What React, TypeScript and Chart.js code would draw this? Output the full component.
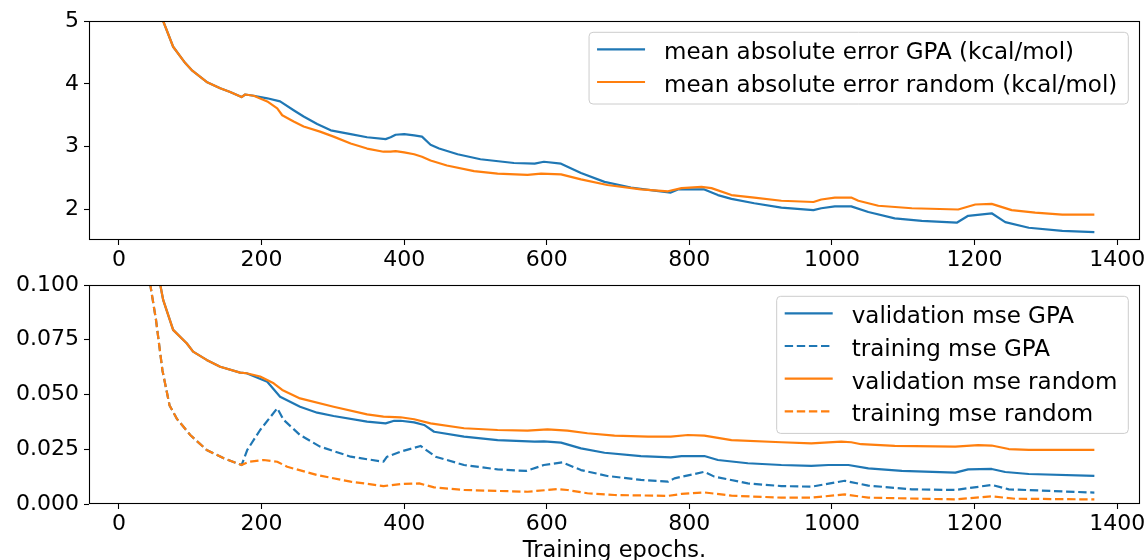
import { useEffect, useRef } from 'react';
import { Chart, registerables } from 'chart.js';

Chart.register(...registerables);

const FONT = '"DejaVu Sans", sans-serif';
const BLUE = '#1f77b4';
const ORANGE = '#ff7f0e';
const DASH = [8.4, 3.7];

// ---- axis ticks ----
const xTicks = [0, 200, 400, 600, 800, 1000, 1200, 1400];
const maeTicks = [2, 3, 4, 5];
const mseTicks = [0, 0.025, 0.05, 0.075, 0.1];

// ---- top panel: mean absolute error ----
const maeRandomEpochs = [30, 62, 76, 93, 102, 123, 142, 156, 172, 177, 189, 208, 222, 229, 245, 259, 282, 301, 325, 348, 371, 381, 388, 400, 414, 425, 437, 460, 498, 531, 573, 592, 620, 648, 685, 732, 770, 789, 817, 831, 859, 891, 929, 974, 985, 1004, 1027, 1037, 1065, 1112, 1177, 1201, 1224, 1252, 1285, 1323, 1368];
const maeRandomValues = [7.5, 5.0, 4.59, 4.33, 4.22, 4.03, 3.93, 3.87, 3.79, 3.83, 3.81, 3.72, 3.61, 3.50, 3.40, 3.32, 3.24, 3.16, 3.05, 2.97, 2.92, 2.92, 2.93, 2.91, 2.88, 2.84, 2.78, 2.70, 2.61, 2.57, 2.55, 2.57, 2.56, 2.48, 2.39, 2.32, 2.29, 2.34, 2.36, 2.34, 2.23, 2.19, 2.14, 2.12, 2.16, 2.19, 2.19, 2.14, 2.06, 2.02, 2.00, 2.08, 2.09, 1.99, 1.95, 1.92, 1.92];

const maeGpaEpochs = [30, 62, 76, 93, 102, 123, 142, 156, 172, 177, 189, 208, 226, 245, 259, 278, 297, 325, 348, 374, 381, 388, 400, 414, 425, 437, 449, 475, 507, 554, 583, 596, 620, 648, 681, 718, 751, 774, 784, 821, 840, 859, 891, 929, 974, 985, 1004, 1027, 1051, 1088, 1126, 1175, 1191, 1224, 1243, 1276, 1323, 1368];
const maeGpaValues = [7.5, 5.0, 4.59, 4.33, 4.22, 4.03, 3.93, 3.87, 3.79, 3.83, 3.81, 3.77, 3.72, 3.58, 3.48, 3.36, 3.26, 3.20, 3.15, 3.12, 3.15, 3.19, 3.20, 3.18, 3.16, 3.03, 2.97, 2.88, 2.80, 2.74, 2.73, 2.76, 2.73, 2.58, 2.44, 2.35, 2.30, 2.27, 2.32, 2.32, 2.23, 2.17, 2.10, 2.03, 1.99, 2.02, 2.05, 2.05, 1.96, 1.86, 1.82, 1.79, 1.90, 1.94, 1.80, 1.71, 1.66, 1.64];

// ---- bottom panel: mse ----
const valRandomEpochs = [30, 58, 62, 76, 95, 104, 123, 142, 170, 179, 198, 217, 229, 254, 301, 348, 371, 395, 414, 437, 484, 531, 573, 601, 629, 657, 695, 742, 774, 798, 821, 859, 929, 971, 1013, 1027, 1041, 1088, 1173, 1205, 1224, 1248, 1276, 1368];
const valRandomValues = [0.16, 0.100, 0.0932, 0.0795, 0.0734, 0.0696, 0.0658, 0.0627, 0.0600, 0.0597, 0.0582, 0.0551, 0.0521, 0.0482, 0.0444, 0.0409, 0.0399, 0.0396, 0.0387, 0.0368, 0.0346, 0.0338, 0.0335, 0.0341, 0.0335, 0.0323, 0.0312, 0.0308, 0.0308, 0.0315, 0.0312, 0.0292, 0.0282, 0.0277, 0.0285, 0.0282, 0.0273, 0.0265, 0.0262, 0.0269, 0.0267, 0.0251, 0.0247, 0.0247];

const valGpaEpochs = [30, 58, 62, 76, 95, 104, 123, 142, 170, 179, 208, 226, 254, 278, 301, 348, 374, 386, 395, 414, 428, 442, 484, 531, 583, 596, 620, 648, 681, 732, 774, 789, 821, 840, 882, 929, 971, 995, 1023, 1051, 1098, 1173, 1191, 1224, 1243, 1276, 1368];
const valGpaValues = [0.16, 0.100, 0.0932, 0.0795, 0.0734, 0.0696, 0.0658, 0.0627, 0.0600, 0.0597, 0.0558, 0.0490, 0.0444, 0.0417, 0.0402, 0.0376, 0.0368, 0.0380, 0.0380, 0.0373, 0.0361, 0.0330, 0.0308, 0.0292, 0.0285, 0.0286, 0.0280, 0.0254, 0.0234, 0.0219, 0.0213, 0.0219, 0.0219, 0.0201, 0.0186, 0.0178, 0.0174, 0.0178, 0.0178, 0.0163, 0.0151, 0.0143, 0.0158, 0.0160, 0.0146, 0.0137, 0.0128];

const trainGpaEpochs = [25, 44, 52, 61, 71, 81, 100, 123, 147, 172, 180, 198, 222, 231, 254, 282, 325, 371, 376, 395, 423, 444, 484, 531, 571, 596, 622, 648, 685, 732, 770, 779, 821, 835, 882, 929, 971, 1018, 1051, 1112, 1173, 1224, 1248, 1368];
const trainGpaValues = [0.25, 0.100, 0.084, 0.061, 0.045, 0.039, 0.0315, 0.0247, 0.0209, 0.0178, 0.0247, 0.0338, 0.0437, 0.0384, 0.0315, 0.0262, 0.0216, 0.0193, 0.0216, 0.0239, 0.0265, 0.0216, 0.0178, 0.0158, 0.0151, 0.0178, 0.0190, 0.0155, 0.0128, 0.0110, 0.0102, 0.0117, 0.0147, 0.0125, 0.0094, 0.0082, 0.0079, 0.0106, 0.0084, 0.0067, 0.0064, 0.0087, 0.0067, 0.0052];

const trainRandomEpochs = [25, 44, 52, 61, 71, 81, 100, 123, 147, 172, 182, 203, 222, 236, 278, 325, 371, 395, 421, 442, 484, 573, 615, 629, 657, 695, 770, 789, 821, 859, 929, 971, 1018, 1051, 1173, 1224, 1257, 1368];
const trainRandomValues = [0.25, 0.100, 0.084, 0.061, 0.045, 0.039, 0.0315, 0.0247, 0.0209, 0.0178, 0.0193, 0.0201, 0.0193, 0.0170, 0.0132, 0.0102, 0.0082, 0.0091, 0.0094, 0.0076, 0.0064, 0.0056, 0.0068, 0.0064, 0.0049, 0.0041, 0.0037, 0.0046, 0.0053, 0.0038, 0.0029, 0.0029, 0.0044, 0.0029, 0.0021, 0.0035, 0.0024, 0.0021];

const topLegend = ['mean absolute error GPA (kcal/mol)', 'mean absolute error random (kcal/mol)'];
const bottomLegend = ['validation mse GPA', 'training mse GPA', 'validation mse random', 'training mse random'];
const xLabel = 'Training epochs.';

const pts = (xs: number[], ys: number[]) => xs.map((x, i) => ({ x, y: ys[i] }));

type LegendItem = { label: string; color: string; dash?: number[] };

function roundRectPath(ctx: CanvasRenderingContext2D, x: number, y: number, w: number, h: number, r: number) {
  ctx.beginPath();
  ctx.moveTo(x + r, y);
  ctx.lineTo(x + w - r, y);
  ctx.arcTo(x + w, y, x + w, y + r, r);
  ctx.lineTo(x + w, y + h - r);
  ctx.arcTo(x + w, y + h, x + w - r, y + h, r);
  ctx.lineTo(x + r, y + h);
  ctx.arcTo(x, y + h, x, y + h - r, r);
  ctx.lineTo(x, y + r);
  ctx.arcTo(x, y, x + r, y, r);
  ctx.closePath();
}

function makeDecorPlugin(items: LegendItem[], bottomLabel?: string) {
  return {
    id: 'decor',
    afterDraw(chart: any) {
      const ctx: CanvasRenderingContext2D = chart.ctx;
      const a = chart.chartArea;
      ctx.save();
      // spines
      ctx.strokeStyle = '#000';
      ctx.lineWidth = 1.1;
      ctx.setLineDash([]);
      const l = Math.round(a.left) + 0.5;
      const t = Math.round(a.top) + 0.5;
      const r = Math.round(a.right) - 0.5;
      const b = Math.round(a.bottom) - 0.5;
      ctx.strokeRect(l, t, r - l, b - t);
      // legend
      ctx.font = `23px ${FONT}`;
      const textW = Math.max(...items.map((it) => ctx.measureText(it.label).width));
      const rowGap = 32.7;
      const w = 8 + 48 + 19 + textW + 11;
      const h = 17 + rowGap * (items.length - 1) + 22;
      const right = a.right - 11.7;
      const top = a.top + 11.3;
      const left = right - w;
      roundRectPath(ctx, left, top, w, h, 4);
      ctx.fillStyle = 'rgba(255,255,255,0.8)';
      ctx.fill();
      ctx.strokeStyle = '#cccccc';
      ctx.lineWidth = 1;
      ctx.stroke();
      items.forEach((it, i) => {
        const y = top + 17 + i * rowGap;
        ctx.beginPath();
        ctx.setLineDash(it.dash || []);
        ctx.strokeStyle = it.color;
        ctx.lineWidth = 2.2;
        ctx.moveTo(left + 8, y);
        ctx.lineTo(left + 56, y);
        ctx.stroke();
        ctx.setLineDash([]);
        ctx.fillStyle = '#000';
        ctx.textAlign = 'left';
        ctx.textBaseline = 'alphabetic';
        ctx.fillText(it.label, left + 75, y + 10);
      });
      if (bottomLabel) {
        ctx.font = `22.5px ${FONT}`;
        ctx.fillStyle = '#000';
        ctx.textAlign = 'center';
        ctx.textBaseline = 'alphabetic';
        ctx.fillText(bottomLabel, (a.left + a.right) / 2, a.bottom + 53);
      }
      ctx.restore();
    },
  };
}

function lineDs(label: string, xs: number[], ys: number[], color: string, order: number, dashed: boolean) {
  return {
    label,
    data: pts(xs, ys),
    borderColor: color,
    backgroundColor: color,
    borderWidth: 2.2,
    borderDash: dashed ? DASH : [],
    borderJoinStyle: 'round' as const,
    pointRadius: 0,
    tension: 0,
    fill: false,
    order,
    clip: 0,
  };
}

function baseOptions(yMin: number, yMax: number, yTickVals: number[], yFmt: (v: number) => string, topPad: number, xHeight: number) {
  const tickFont = { family: FONT, size: 22, lineHeight: 1.2 };
  return {
    animation: false as const,
    responsive: false,
    devicePixelRatio: 1,
    events: [] as any[],
    layout: { padding: { top: topPad, right: 5, left: 0, bottom: 0 } },
    plugins: { legend: { display: false }, tooltip: { enabled: false }, title: { display: false } },
    scales: {
      x: {
        type: 'linear' as const,
        min: -42,
        max: 1432,
        border: { display: false },
        grid: { display: true, drawOnChartArea: false, drawTicks: true, tickLength: 5, tickColor: '#000', tickWidth: 1.1 },
        ticks: { font: tickFont, color: '#000', padding: 2, maxRotation: 0, autoSkip: false, callback: (v: any) => String(v) },
        afterBuildTicks: (s: any) => { s.ticks = xTicks.map((v) => ({ value: v })); },
        afterFit: (s: any) => { s.height = xHeight; s.paddingLeft = 0; s.paddingRight = 0; s.paddingTop = 0; s.paddingBottom = 0; },
      },
      y: {
        type: 'linear' as const,
        min: yMin,
        max: yMax,
        border: { display: false },
        grid: { display: true, drawOnChartArea: false, drawTicks: true, tickLength: 5, tickColor: '#000', tickWidth: 1.1 },
        ticks: { font: tickFont, color: '#000', padding: 5, autoSkip: false, callback: (v: any) => yFmt(Number(v)) },
        afterBuildTicks: (s: any) => { s.ticks = yTickVals.map((v) => ({ value: v })); },
        afterFit: (s: any) => { s.width = 89; s.paddingLeft = 0; s.paddingRight = 0; s.paddingTop = 0; s.paddingBottom = 0; },
      },
    },
  };
}

export default function App() {
  const topRef = useRef<HTMLCanvasElement>(null);
  const botRef = useRef<HTMLCanvasElement>(null);

  useEffect(() => {
    const topChart = new Chart(topRef.current as HTMLCanvasElement, {
      type: 'line',
      data: {
        datasets: [
          lineDs(topLegend[0], maeGpaEpochs, maeGpaValues, BLUE, 2, false),
          lineDs(topLegend[1], maeRandomEpochs, maeRandomValues, ORANGE, 1, false),
        ] as any,
      },
      options: baseOptions(1.515, 5, maeTicks, (v) => String(v), 21, 30) as any,
      plugins: [
        makeDecorPlugin([
          { label: topLegend[0], color: BLUE },
          { label: topLegend[1], color: ORANGE },
        ]),
      ],
    });

    const botChart = new Chart(botRef.current as HTMLCanvasElement, {
      type: 'line',
      data: {
        datasets: [
          lineDs(bottomLegend[0], valGpaEpochs, valGpaValues, BLUE, 4, false),
          lineDs(bottomLegend[1], trainGpaEpochs, trainGpaValues, BLUE, 3, true),
          lineDs(bottomLegend[2], valRandomEpochs, valRandomValues, ORANGE, 2, false),
          lineDs(bottomLegend[3], trainRandomEpochs, trainRandomValues, ORANGE, 1, true),
        ] as any,
      },
      options: baseOptions(0, 0.1, mseTicks, (v) => v.toFixed(3), 15, 56) as any,
      plugins: [
        makeDecorPlugin(
          [
            { label: bottomLegend[0], color: BLUE },
            { label: bottomLegend[1], color: BLUE, dash: DASH },
            { label: bottomLegend[2], color: ORANGE },
            { label: bottomLegend[3], color: ORANGE, dash: DASH },
          ],
          xLabel,
        ),
      ],
    });

    return () => {
      topChart.destroy();
      botChart.destroy();
    };
  }, []);

  return (
    <div style={{ position: 'absolute', left: 0, top: 0, width: 1145, height: 560, background: '#fff' }}>
      <canvas ref={topRef} width={1145} height={270} style={{ position: 'absolute', left: 0, top: 0, width: 1145, height: 270 }} />
      <canvas ref={botRef} width={1145} height={290} style={{ position: 'absolute', left: 0, top: 270, width: 1145, height: 290 }} />
    </div>
  );
}
